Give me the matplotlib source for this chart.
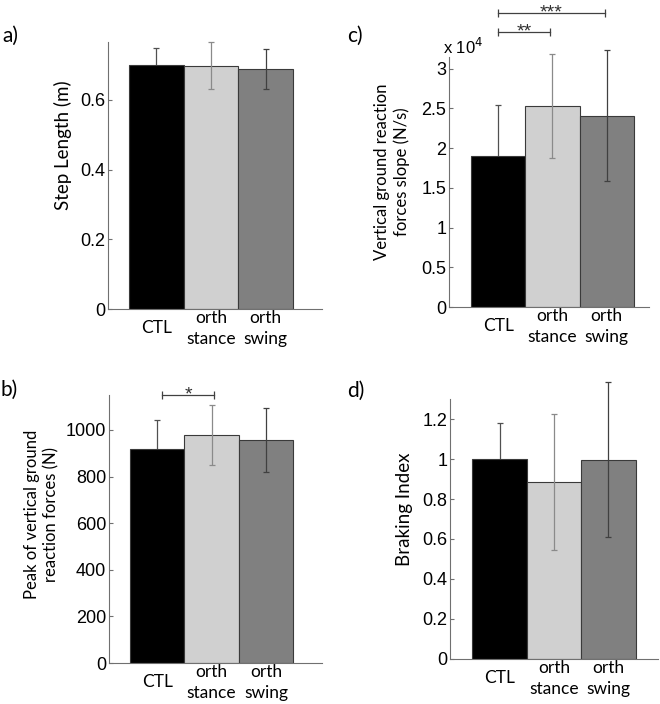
import matplotlib.pyplot as plt
from matplotlib.ticker import FuncFormatter

# groups and colours
groups = ['CTL', 'orth\nstance', 'orth\nswing']
bar_colors = ['#000000', '#d0d0d0', '#808080']
err_colors = ['#505050', '#8a8a8a', '#404040']

# a) step length (m)
step_mean = [0.700, 0.698, 0.688]
step_sd = [0.050, 0.068, 0.057]

# b) peak vertical GRF (N)
peak_mean = [917, 978, 958]
peak_sd = [126, 130, 137]

# c) vertical GRF slope (N/s)
slope_mean = [19000, 25300, 24100]
slope_sd = [6400, 6500, 8200]

# d) braking index
brake_mean = [1.0, 0.886, 0.998]
brake_sd = [0.183, 0.340, 0.39]

label_font = 'Lato'
num_font = 'Liberation Sans'
spine_col = '#707070'

fig = plt.figure(figsize=(6.6, 7.04), dpi=100)


def panel(rect, means, sds, ylim, yticks, xlim, ylabel, lab_xy, lab_size, letter, letter_xy, fmt=None):
    ax = fig.add_axes(rect)
    x = [1, 2, 3]
    for i in range(3):
        # CTL error bar sits behind the black bar, so only its upper half shows
        z = 1 if i == 0 else 3
        eb = ax.errorbar(x[i], means[i], yerr=sds[i], fmt='none', ecolor=err_colors[i],
                         elinewidth=0.9, capsize=2.5, capthick=0.9, zorder=z)
        for art in eb.lines[1] + eb.lines[2]:
            art.set_clip_on(False)
    ax.bar(x, means, width=1.0, color=bar_colors, edgecolor='#3a3a3a', linewidth=0.8, zorder=2)
    ax.set_xlim(*xlim)
    ax.set_ylim(*ylim)
    ax.set_yticks(yticks)
    if fmt is None:
        fmt = lambda v, p: '%g' % round(v, 3)
    ax.yaxis.set_major_formatter(FuncFormatter(fmt))
    ax.set_xticks(x)
    ax.set_xticklabels(groups, family=label_font, fontsize=12.5, va='center', linespacing=1.4)
    ax.tick_params(axis='x', length=0, pad=14)
    ax.tick_params(axis='y', direction='in', length=3, width=0.8, color=spine_col, pad=2, labelsize=13)
    for t in ax.get_yticklabels():
        t.set_family(num_font)
    for s in ['top', 'right']:
        ax.spines[s].set_visible(False)
    for s in ['left', 'bottom']:
        ax.spines[s].set_color(spine_col)
        ax.spines[s].set_linewidth(0.8)
    ax.set_ylabel(ylabel, family=label_font, fontsize=lab_size, va='center', linespacing=1.25)
    ax.yaxis.set_label_coords(*lab_xy)
    fig.text(letter_xy[0], letter_xy[1], letter, family=label_font, fontsize=15, va='center', ha='left')
    return ax


def bracket(ax, x1, x2, y, stars):
    ax.plot([x1, x2], [y, y], color='#404040', lw=0.9, marker='|', markersize=6,
            markeredgewidth=0.9, clip_on=False, zorder=4)
    ax.annotate(stars, ((x1 + x2) / 2, y), xytext=(0, -6), textcoords='offset points',
                ha='center', va='bottom', fontsize=14, family=num_font, color='#303030',
                annotation_clip=False)


W, H = 660, 704

ax_a = panel([108 / W, 1 - 309 / H, 214 / W, 267 / H], step_mean, step_sd,
             (0, 0.766), [0, 0.2, 0.4, 0.6], (0.116, 4.03), 'Step Length (m)',
             (-0.210, 0.615), 13.5, 'a)', (2 / W, 1 - 36 / H))

ax_b = panel([109 / W, 1 - 663 / H, 213 / W, 268 / H], peak_mean, peak_sd,
             (0, 1150), [0, 200, 400, 600, 800, 1000], (0.116, 4.03),
             'Peak of vertical ground\nreaction forces (N)',
             (-0.315, 0.554), 12, 'b)', (0 / W, 1 - 390 / H))
bracket(ax_b, 1.085, 2.05, 1150, '*')

ax_c = panel([449 / W, 1 - 307 / H, 200 / W, 250.3 / H], slope_mean, slope_sd,
             (0, 31500), [0, 5000, 10000, 15000, 20000, 25000, 30000], (0.095, 3.78),
             'Vertical ground reaction\nforces slope (N/s)',
             (-0.285, 0.539), 12, 'c)', (347 / W, 1 - 36 / H),
             fmt=lambda v, p: '%g' % (v / 1e4))
ax_c.text(-0.03, 1.0, r'x 10$^4$', transform=ax_c.transAxes, family=num_font, fontsize=12,
          ha='left', va='bottom')
bracket(ax_c, 1.0, 1.96, 34600, '**')
bracket(ax_c, 1.0, 2.97, 37000, '***')

ax_d = panel([450 / W, 1 - 658.7 / H, 208 / W, 259.4 / H], brake_mean, brake_sd,
             (0, 1.30), [0, 0.2, 0.4, 0.6, 0.8, 1.0, 1.2], (0.09, 3.91), 'Braking Index',
             (-0.221, 0.575), 13.5, 'd)', (347 / W, 1 - 391 / H))

plt.savefig('out.png', dpi=100)
